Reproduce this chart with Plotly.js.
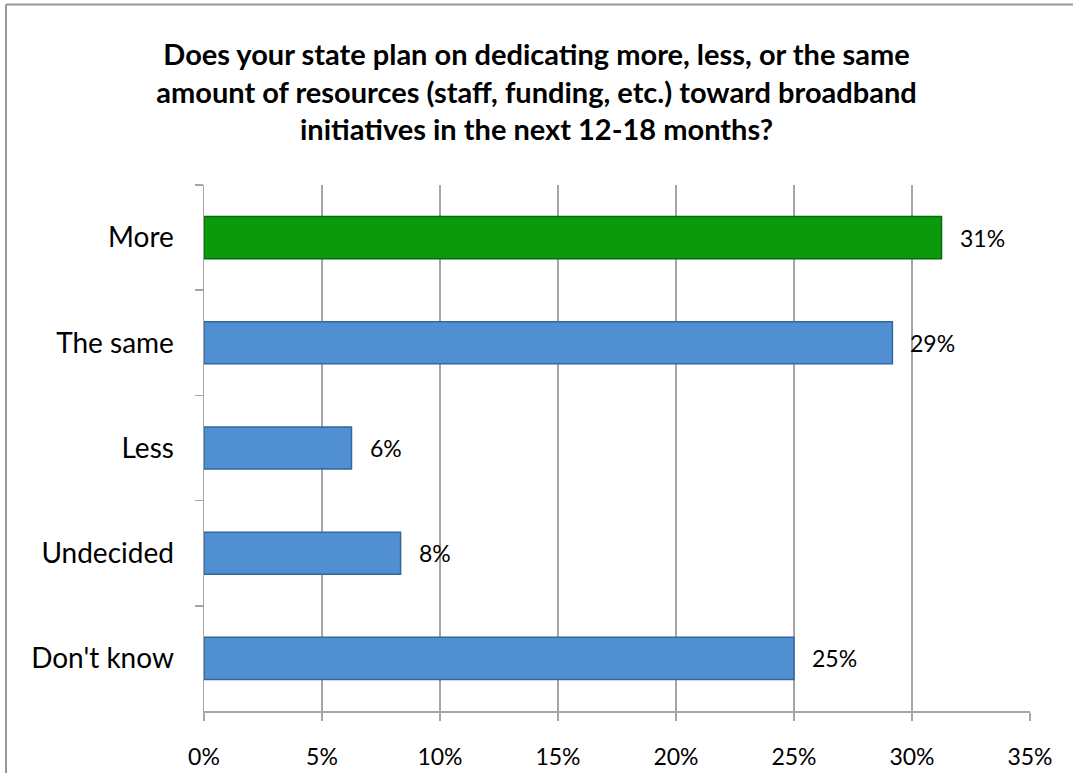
<!DOCTYPE html>
<html>
<head>
<meta charset="utf-8">
<script src="https://cdn.plot.ly/plotly-3.0.1.min.js"></script>
<style>
html,body{margin:0;padding:0;background:#fff;}
#chart{width:1073px;height:773px;}
</style>
</head>
<body>
<div id="chart"></div>
<script>
var categories = ["More", "The same", "Less", "Undecided", "Don't know"];
var values = [31.25, 29.17, 6.25, 8.33, 25.0];
var labels = ["31%", "29%", "6%", "8%", "25%"];
var barColors = ["#0b9a0b", "#4f8fd2", "#4f8fd2", "#4f8fd2", "#4f8fd2"];
var lineColors = ["#0a6a0a", "#34679c", "#34679c", "#34679c", "#34679c"];
var xTicks = [0, 5, 10, 15, 20, 25, 30, 35];
var xTickText = ["0%", "5%", "10%", "15%", "20%", "25%", "30%", "35%"];
var titleText = "Does your state plan on dedicating more, less, or the same<br>amount of resources (staff, funding, etc.) toward broadband<br>initiatives in the next 12-18 months?";

var FONT = "Lato, 'Open Sans', sans-serif";

var trace = {
  type: "bar",
  orientation: "h",
  y: categories,
  x: values,
  marker: {color: barColors, line: {color: lineColors, width: 1.5}},
  width: 0.4,
  hoverinfo: "none"
};

var annotations = categories.map(function(c, i) {
  return {
    x: values[i], y: c, xref: "x", yref: "y",
    text: labels[i], showarrow: false,
    xanchor: "left", xshift: 16,
    font: {family: FONT, size: 23, color: "#000"}
  };
});

var layout = {
  width: 1073, height: 773,
  margin: {l: 204, r: 43, t: 185, b: 62},
  paper_bgcolor: "#fff", plot_bgcolor: "#fff",
  showlegend: false,
  title: {
    text: titleText,
    x: 0.5, xanchor: "center", xref: "container",
    y: 0.916, yanchor: "top", yref: "container",
    font: {family: FONT, size: 29, color: "#000", weight: "bold"}
  },
  xaxis: {
    range: [0, 35],
    tickvals: xTicks, ticktext: xTickText,
    showgrid: true, gridcolor: "#a6a6a6", gridwidth: 1.5,
    showline: true, linecolor: "#a6a6a6", linewidth: 1.5,
    ticks: "outside", ticklen: 8, tickcolor: "#a6a6a6", tickwidth: 1.5,
    tickfont: {family: FONT, size: 23, color: "#000"},
    ticklabelstandoff: 17,
    zeroline: false, fixedrange: true
  },
  yaxis: {
    type: "category",
    autorange: "reversed",
    categoryorder: "array", categoryarray: categories,
    showline: true, linecolor: "#a6a6a6", linewidth: 1.5,
    ticks: "outside", tickson: "boundaries", ticklen: 8, tickcolor: "#a6a6a6", tickwidth: 1.5,
    showgrid: false,
    tickfont: {family: FONT, size: 28, color: "#000"},
    ticklabelstandoff: 23,
    fixedrange: true
  },
  annotations: annotations,
  shapes: [
    {type: "line", xref: "paper", yref: "paper", x0: -0.2397, x1: -0.2397, y0: 1.343, y1: -0.2, line: {color: "#999", width: 2}},
    {type: "line", xref: "paper", yref: "paper", x0: -0.2397, x1: 1.1, y0: 1.343, y1: 1.343, line: {color: "#999", width: 2}}
  ]
};

Plotly.newPlot("chart", [trace], layout, {displayModeBar: false, staticPlot: true});
</script>
</body>
</html>
